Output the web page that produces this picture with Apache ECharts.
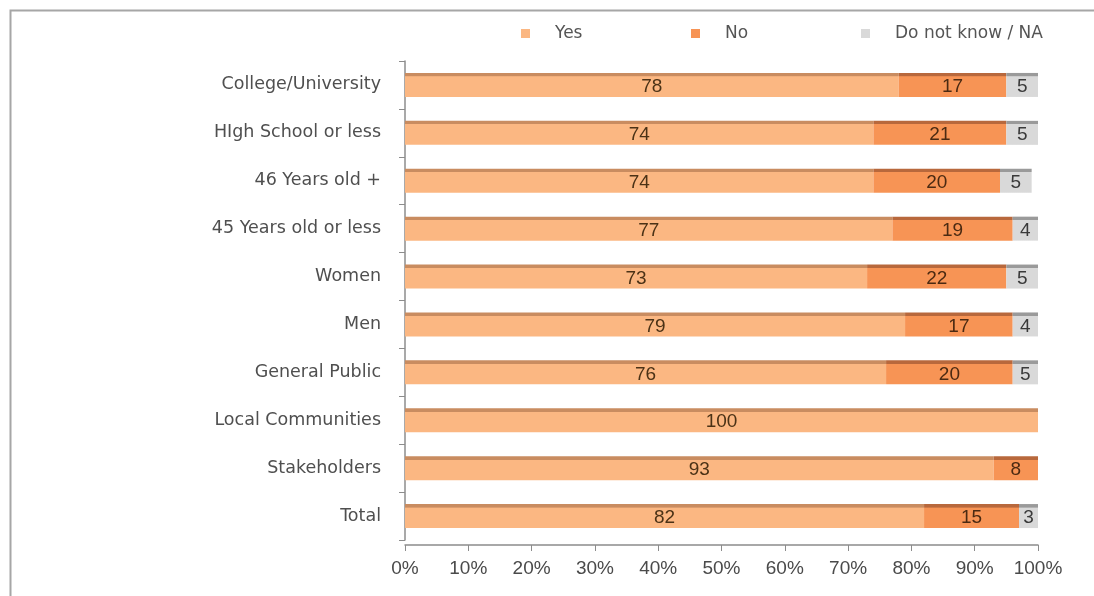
<!DOCTYPE html>
<html>
<head>
<meta charset="utf-8">
<script src="https://cdn.jsdelivr.net/npm/echarts@6/dist/echarts.min.js"></script>
<style>
  html, body { margin: 0; padding: 0; background: #fff; }
  #chart_survey { width: 1094px; height: 596px; }
</style>
</head>
<body>
<div id="chart_survey"></div>
<script>
var categories = ['College/University', 'HIgh School or less', '46 Years old +', '45 Years old or less',
    'Women', 'Men', 'General Public', 'Local Communities', 'Stakeholders', 'Total'];
var yesValues = [78, 74, 74, 77, 73, 79, 76, 100, 93, 82];
var noValues = [17, 21, 20, 19, 22, 17, 20, 0, 8, 15];
var dkValues = [5, 5, 5, 4, 5, 4, 5, 0, 0, 3];
var tickLabels = ['0%', '10%', '20%', '30%', '40%', '50%', '60%', '70%', '80%', '90%', '100%'];
var seriesNames = ['Yes', 'No', 'Do not know / NA'];

var yesColor = '#fbb782', noColor = '#f79455', dkColor = '#d9d9d9';
var legendColors = [yesColor, noColor, dkColor];
var legendLeft = [516, 686, 856];

// flat bar with a darker strip on top (the 3d top face in the original)
function barFill(top, base) {
    return new echarts.graphic.LinearGradient(0, 0, 0, 1, [
        { offset: 0, color: top },
        { offset: 0.14, color: top },
        { offset: 0.15, color: base },
        { offset: 1, color: base }
    ]);
}

function segLabel(color) {
    return {
        show: true,
        position: 'inside',
        color: color,
        fontFamily: 'Liberation Sans',
        fontSize: 19,
        offset: [0, 2],
        formatter: function(p) { return p.value ? p.value : ''; }
    };
}

// one legend per item so they sit at the wide spacing of the original
var legends = seriesNames.map(function(name, i) {
    return {
        left: legendLeft[i],
        top: 20,
        itemWidth: 9,
        itemHeight: 9,
        icon: 'rect',
        textStyle: {
            color: '#555',
            fontFamily: 'DejaVu Sans',
            fontSize: 17,
            padding: [0, 0, 0, 20]
        },
        data: [{ name: name, itemStyle: { color: legendColors[i] } }]
    };
});

var chartSurvey = echarts.init(document.getElementById('chart_survey'));
var option = {
    animation: false,
    color: legendColors,
    legend: legends,
    grid: {
        left: 405,
        right: 56,
        top: 61,
        height: 479,
        containLabel: false
    },
    xAxis: {
        type: 'value',
        min: 0,
        max: 100,
        interval: 10,
        offset: 5,
        axisLine: { show: true, lineStyle: { color: '#8c8c8c', width: 1.5 } },
        axisTick: { show: true, length: 6, lineStyle: { color: '#8c8c8c' } },
        splitLine: { show: false },
        axisLabel: {
            color: '#4a4a4a',
            fontFamily: 'Liberation Sans',
            fontSize: 19,
            margin: 14,
            formatter: function(v) { return tickLabels[Math.round(v / 10)]; }
        }
    },
    yAxis: {
        type: 'category',
        inverse: true,
        data: categories,
        axisLine: { show: true, lineStyle: { color: '#8c8c8c', width: 1.5 } },
        axisTick: { show: true, length: 6, lineStyle: { color: '#8c8c8c' } },
        axisLabel: {
            color: '#4f4f4f',
            fontFamily: 'DejaVu Sans',
            fontSize: 17.5,
            margin: 24
        }
    },
    series: [{
        name: seriesNames[0],
        type: 'bar',
        stack: 'all',
        barWidth: 24,
        itemStyle: { color: barFill('#c98c60', yesColor) },
        label: segLabel('#4b3216'),
        data: yesValues
    }, {
        name: seriesNames[1],
        type: 'bar',
        stack: 'all',
        barWidth: 24,
        itemStyle: { color: barFill('#b8683c', noColor) },
        label: segLabel('#4b2a12'),
        data: noValues
    }, {
        name: seriesNames[2],
        type: 'bar',
        stack: 'all',
        barWidth: 24,
        itemStyle: { color: barFill('#9a9a9a', dkColor) },
        label: segLabel('#3a3a3a'),
        data: dkValues
    }],
    graphic: [{
        type: 'rect',
        left: 8,
        top: 8,
        shape: { width: 1100, height: 600 },
        style: { fill: 'none', stroke: '#a6a6a6', lineWidth: 2 },
        silent: true
    }]
};
chartSurvey.setOption(option);
</script>
</body>
</html>
